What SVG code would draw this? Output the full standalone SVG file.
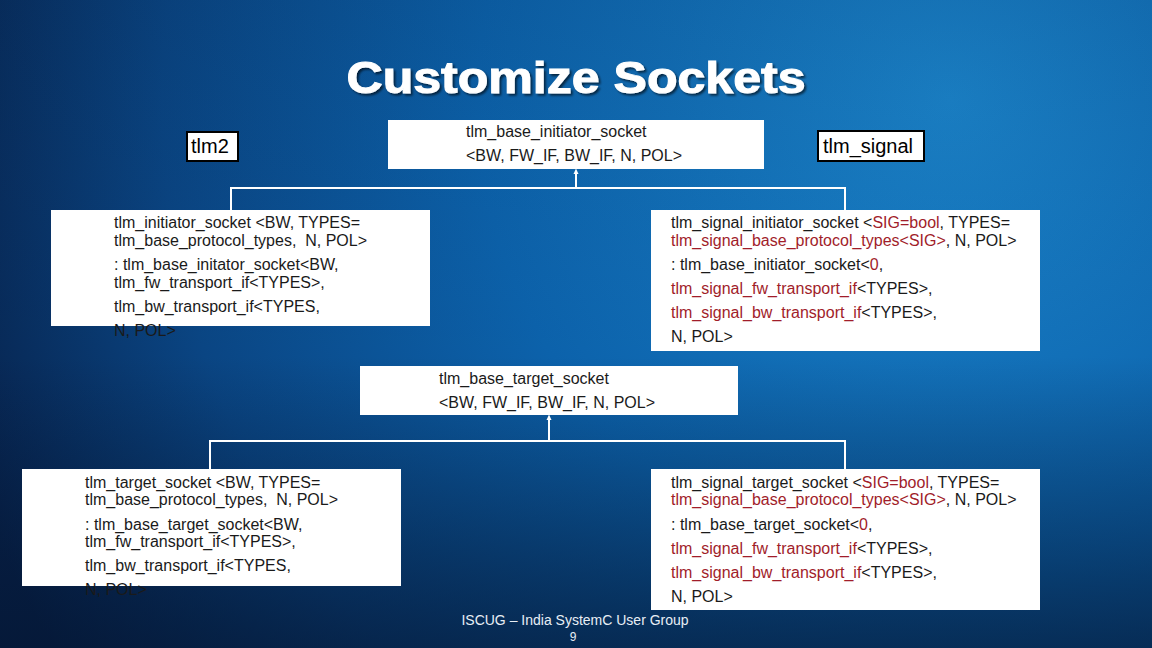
<svg xmlns="http://www.w3.org/2000/svg" width="1152" height="648" viewBox="0 0 1152 648">
<defs>
<radialGradient id="bg" cx="950" cy="100" r="1050" gradientUnits="userSpaceOnUse">
<stop offset="0" stop-color="#1b84cb"/>
<stop offset="0.45" stop-color="#0c62ab"/>
<stop offset="0.75" stop-color="#0a4583"/>
<stop offset="1" stop-color="#07214a"/>
</radialGradient>
<linearGradient id="shade" x1="0" y1="0" x2="0" y2="1">
<stop offset="0" stop-color="#041530" stop-opacity="0.1"/>
<stop offset="0.55" stop-color="#041530" stop-opacity="0"/>
<stop offset="1" stop-color="#041530" stop-opacity="0.65"/>
</linearGradient>
<filter id="sh" x="-5%" y="-20%" width="110%" height="140%">
<feDropShadow dx="2" dy="2" stdDeviation="1" flood-color="#000" flood-opacity="0.6"/>
</filter>
</defs>
<style>
.box{fill:#ffffff;}
.lbl{fill:#ffffff;stroke:#000000;stroke-width:2;}
.t{font-family:"Liberation Sans",Arial,sans-serif;font-size:16px;fill:#1a1a1a;}
.big{font-size:20px;fill:#000000;}
.r{fill:#a11d2a;}
.c{stroke:#ffffff;stroke-width:2;fill:none;}
.title{font-family:"Liberation Sans",Arial,sans-serif;font-weight:bold;font-size:44px;fill:#ffffff;stroke:#ffffff;stroke-width:1;}
.foot{font-family:"Liberation Sans",Arial,sans-serif;fill:#e8eef5;}
</style>
<rect width="1152" height="648" fill="url(#bg)"/>
<rect width="1152" height="648" fill="url(#shade)"/>
<text class="title" x="576" y="93" text-anchor="middle" textLength="459" lengthAdjust="spacingAndGlyphs" filter="url(#sh)">Customize Sockets</text>

<g id="connectors">
<path class="c" d="M576,171 V188 M231,210 V188 H845 V210"/>
<path class="c" d="M549,417 V441 M210,469 V441 H845 V469"/>
<path d="M573.5,174 L576,168.5 L578.5,174 Z" fill="#ffffff"/>
<path d="M546.5,420 L549,414.5 L551.5,420 Z" fill="#ffffff"/>
</g>

<g id="tlm2">
<rect class="lbl" x="187" y="132" width="51" height="29"/>
<text class="t big" x="191" y="153">tlm2</text>
</g>
<g id="tlm_signal">
<rect class="lbl" x="818" y="131" width="106" height="30"/>
<text class="t big" x="823" y="153">tlm_signal</text>
</g>

<g id="base_initiator">
<rect class="box" x="388" y="120" width="376" height="49"/>
<text class="t" x="466" y="137">tlm_base_initiator_socket</text>
<text class="t" x="466" y="161">&lt;BW, FW_IF, BW_IF, N, POL&gt;</text>
</g>

<g id="initiator_socket">
<rect class="box" x="51" y="210" width="379" height="116"/>
<text class="t" x="114" y="228">tlm_initiator_socket &lt;BW, TYPES=</text>
<text class="t" x="114" y="246" xml:space="preserve">tlm_base_protocol_types,  N, POL&gt;</text>
<text class="t" x="114" y="270">: tlm_base_initator_socket&lt;BW,</text>
<text class="t" x="114" y="288">tlm_fw_transport_if&lt;TYPES&gt;,</text>
<text class="t" x="114" y="312">tlm_bw_transport_if&lt;TYPES,</text>
<text class="t" x="114" y="336">N, POL&gt;</text>
</g>

<g id="signal_initiator_socket">
<rect class="box" x="651" y="210" width="389" height="141"/>
<text class="t" x="671" y="228">tlm_signal_initiator_socket &lt;<tspan class="r">SIG=bool</tspan>, TYPES=</text>
<text class="t" x="671" y="246"><tspan class="r">tlm_signal_base_protocol_types&lt;SIG&gt;</tspan>, N, POL&gt;</text>
<text class="t" x="671" y="270">: tlm_base_initiator_socket&lt;<tspan class="r">0</tspan>,</text>
<text class="t" x="671" y="294"><tspan class="r">tlm_signal_fw_transport_if</tspan>&lt;TYPES&gt;,</text>
<text class="t" x="671" y="318"><tspan class="r">tlm_signal_bw_transport_if</tspan>&lt;TYPES&gt;,</text>
<text class="t" x="671" y="342">N, POL&gt;</text>
</g>

<g id="base_target">
<rect class="box" x="360" y="366" width="378" height="49"/>
<text class="t" x="439" y="384">tlm_base_target_socket</text>
<text class="t" x="439" y="408">&lt;BW, FW_IF, BW_IF, N, POL&gt;</text>
</g>

<g id="target_socket">
<rect class="box" x="22" y="469" width="379" height="117"/>
<text class="t" x="85" y="488">tlm_target_socket &lt;BW, TYPES=</text>
<text class="t" x="85" y="505" xml:space="preserve">tlm_base_protocol_types,  N, POL&gt;</text>
<text class="t" x="85" y="530">: tlm_base_target_socket&lt;BW,</text>
<text class="t" x="85" y="547">tlm_fw_transport_if&lt;TYPES&gt;,</text>
<text class="t" x="85" y="571">tlm_bw_transport_if&lt;TYPES,</text>
<text class="t" x="85" y="595">N, POL&gt;</text>
</g>

<g id="signal_target_socket">
<rect class="box" x="651" y="469" width="389" height="141"/>
<text class="t" x="671" y="488">tlm_signal_target_socket &lt;<tspan class="r">SIG=bool</tspan>, TYPES=</text>
<text class="t" x="671" y="505"><tspan class="r">tlm_signal_base_protocol_types&lt;SIG&gt;</tspan>, N, POL&gt;</text>
<text class="t" x="671" y="530">: tlm_base_target_socket&lt;<tspan class="r">0</tspan>,</text>
<text class="t" x="671" y="554"><tspan class="r">tlm_signal_fw_transport_if</tspan>&lt;TYPES&gt;,</text>
<text class="t" x="671" y="578"><tspan class="r">tlm_signal_bw_transport_if</tspan>&lt;TYPES&gt;,</text>
<text class="t" x="671" y="602">N, POL&gt;</text>
</g>

<g id="footer">
<text class="foot" x="575" y="625" text-anchor="middle" font-size="14">ISCUG – India SystemC User Group</text>
<text class="foot" x="573" y="641" text-anchor="middle" font-size="12">9</text>
</g>
</svg>
